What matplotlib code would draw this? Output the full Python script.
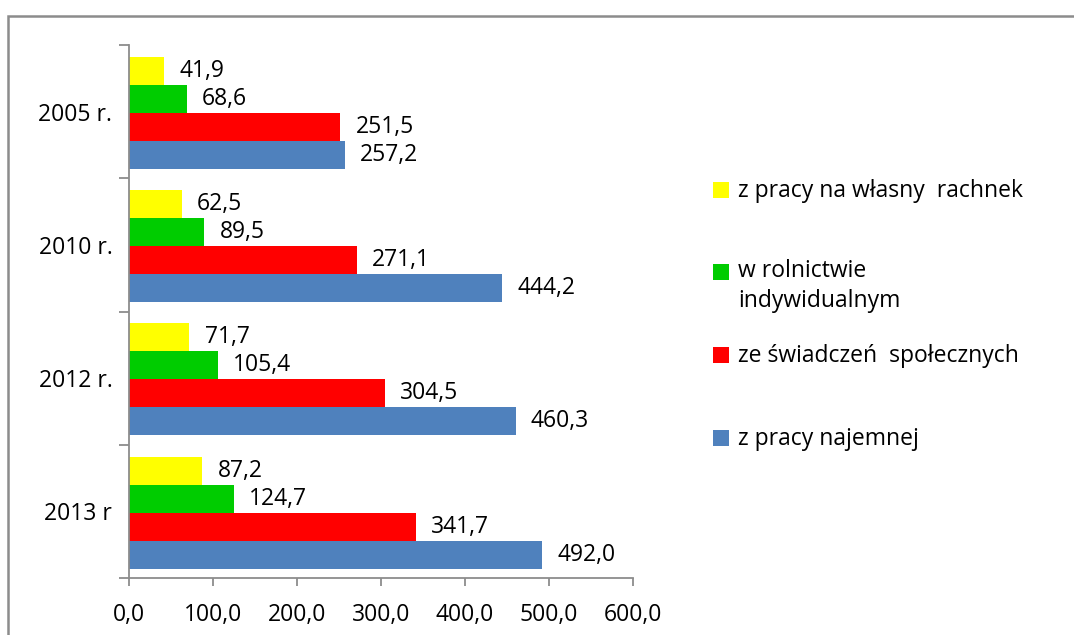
import matplotlib
matplotlib.use("Agg")
import matplotlib.pyplot as plt
from matplotlib.patches import Rectangle
import numpy as np

plt.rcParams['font.family'] = ['Open Sans', 'DejaVu Sans']

years = ["2005 r.", "2010 r.", "2012 r.", "2013 r"]
series_names = ["z pracy na własny  rachnek", "w rolnictwie\nindywidualnym",
                "ze świadczeń  społecznych", "z pracy najemnej"]
wlasny = [41.9, 62.5, 71.7, 87.2]
rolnictwo = [68.6, 89.5, 105.4, 124.7]
swiadczenia = [251.5, 271.1, 304.5, 341.7]
najemna = [257.2, 444.2, 460.3, 492.0]
xticks = [0, 100, 200, 300, 400, 500, 600]

colors = ["#FFFF00", "#00CC00", "#FF0000", "#4F81BD"]
series = [wlasny, rolnictwo, swiadczenia, najemna]

W, H = 1074, 635
fig = plt.figure(figsize=(W/100, H/100), dpi=100)
ax = fig.add_axes([129/W, 1-578/H, (633-129)/W, (578-45)/H])

y = np.arange(len(years))
bh = 0.21
fs = 16.5
for i, (vals, c) in enumerate(zip(series, colors)):
    pos = y + (i - 1.5) * bh + 0.01
    ax.barh(pos, vals, height=bh, color=c, edgecolor='none')
    for p, v in zip(pos, vals):
        ax.annotate(f"{v:.1f}".replace('.', ','), (v, p), xytext=(11, 0),
                    textcoords='offset points', ha='left', va='center',
                    fontsize=fs, color='black')

ax.set_ylim(3.5, -0.5)
ax.set_xlim(0, 600)
ax.set_xticks(xticks)
ax.set_xticklabels([f"{t:.1f}".replace('.', ',') for t in xticks], fontsize=fs)
ax.set_yticks(y)
ax.set_yticklabels(years, fontsize=fs)
ax.set_yticks(np.arange(-0.5, 4.0, 1.0), minor=True)
ax.tick_params(axis='y', which='major', length=0, pad=12)
ax.tick_params(axis='y', which='minor', length=7, width=1.3, color='#8c8c8c', direction='out')
ax.tick_params(axis='x', which='major', length=6, width=1.3, color='#8c8c8c', direction='out', pad=12)
for s in ['top', 'right']:
    ax.spines[s].set_visible(False)
for s in ['left', 'bottom']:
    ax.spines[s].set_color('#8c8c8c')
    ax.spines[s].set_linewidth(1.3)

# outer chart border
fig.patches.append(Rectangle((8/W, -0.1), 1.2, 1.1 - 16/H, transform=fig.transFigure,
                             fill=False, edgecolor='#8c8c8c', linewidth=1.8))

# legend (manual layout, Excel-like slots)
leg_y = [190, 272, 355, 438]
for name, c, ly in zip(series_names, colors, leg_y):
    fig.patches.append(Rectangle((713/W, 1-(ly+8)/H), 16/W, 16/H, transform=fig.transFigure,
                                 facecolor=c, edgecolor='none'))
    if '\n' in name:
        fig.text(738/W, 1-(ly-13)/H, name, fontsize=fs, va='top', ha='left', linespacing=1.35)
    else:
        fig.text(738/W, 1-(ly+1)/H, name, fontsize=fs, va='center', ha='left')

fig.savefig("out.png", dpi=100)
